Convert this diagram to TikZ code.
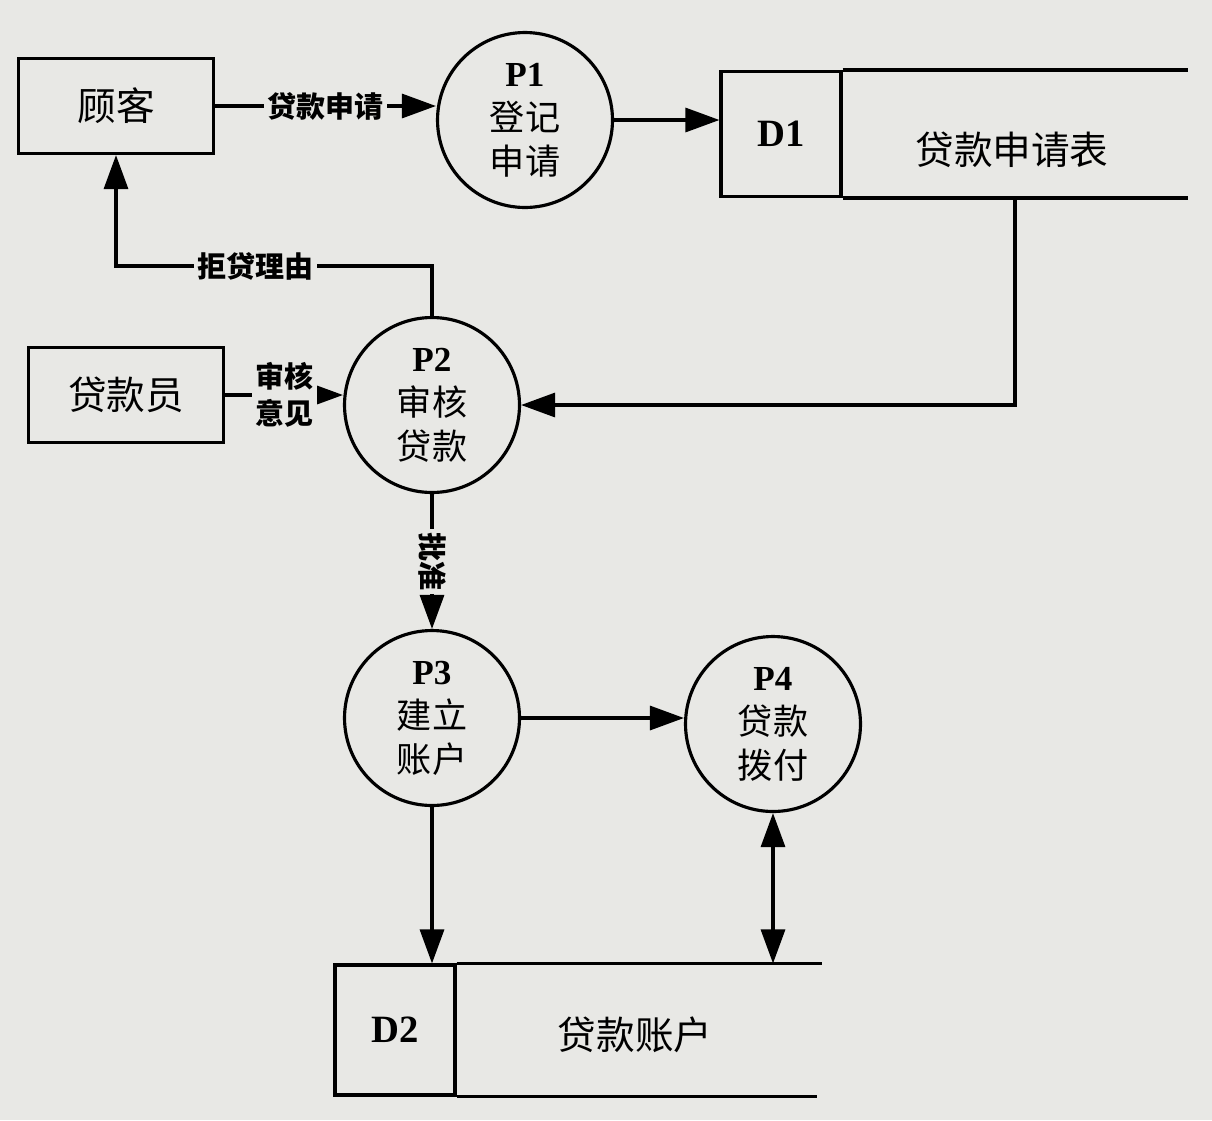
\documentclass[tikz,border=0pt]{standalone}
\usepackage{fontspec}
\setmainfont{Liberation Serif}
\newfontfamily\cjk{Noto Sans CJK SC}
\usetikzlibrary{arrows.meta}

\definecolor{paper}{RGB}{232,232,229}
\newcommand{\pid}[1]{{\rmfamily\bfseries #1}\\}

\tikzset{
  proc/.style={circle, draw, line width=1.8pt, minimum size=3.5cm, inner sep=0pt,
    align=center, font=\cjk\fontsize{20}{25}\selectfont},
  ent/.style={rectangle, draw, line width=1.8pt, minimum width=3.9cm, minimum height=1.9cm,
    font=\cjk\fontsize{22}{26}\selectfont},
  store/.style={rectangle, draw, line width=1.8pt, minimum width=2.4cm, minimum height=2.5cm,
    font=\rmfamily\bfseries\fontsize{22}{26}\selectfont},
  flow/.style={line width=1.8pt, -{Triangle[length=0.68cm,width=0.48cm]}},
  lbl/.style={fill=paper, inner sep=2pt, align=center, font=\cjk\bfseries\fontsize{16.5}{21}\selectfont},
}

\begin{document}
\begin{tikzpicture}[x=0.02cm, y=-0.02cm]
  \fill[paper] (0,0) rectangle (1212,1120);
  \useasboundingbox (0,0) rectangle (1212,1120);

  % external entities
  \node[ent] (gk) at (116,106) {顾客};
  \node[ent] (dky) at (126,395) {贷款员};

  % processes
  \node[proc] (p1) at (525,120) {\pid{P1}登记\\申请};
  \node[proc] (p2) at (432,405) {\pid{P2}审核\\贷款};
  \node[proc] (p3) at (432,718) {\pid{P3}建立\\账户};
  \node[proc] (p4) at (773,724) {\pid{P4}贷款\\拨付};

  % data stores
  \node[store] (d1) at (781,134) {D1};
  \draw[line width=1.8pt] (d1.north east) -- ++(345,0);
  \draw[line width=1.8pt] (d1.south east) -- ++(345,0);
  \node[font=\cjk\fontsize{22}{26}\selectfont] (d1t) at (1012,150) {贷款申请表};
  \coordinate (d1out) at (1015,197);

  \node[store, minimum height=2.6cm] (d2) at (395,1030) {D2};
  \draw[line width=1.8pt] (d2.north east) -- ++(365,0);
  \draw[line width=1.8pt] (d2.south east) -- ++(360,0);
  \node[font=\cjk\fontsize{22}{26}\selectfont] (d2t) at (635,1035) {贷款账户};

  % flows
  \draw[flow] (gk.east) -- (gk.east -| p1.west) node[midway, lbl] {贷款申请};
  \draw[flow] (p1.east) -- (p1.east -| d1.west);
  \draw[flow] (d1out) |- (p2);
  \draw[flow] (p2.north) -- ++(0,-50) -| (gk.south) node[pos=0.28, lbl] {拒贷理由};
  \draw[flow] (dky.east) -- (dky.east -| p2.west) node[midway, lbl] {审核\\意见};
  \draw[flow] (p2.south) -- (p3.north) node[midway, lbl, rotate=-90] {批准};
  \draw[flow] (p3.east) -- (p3.east -| p4.west);
  \draw[flow] (p3.south) -- (p3.south |- d2.north);
  \draw[flow, {Triangle[length=0.68cm,width=0.48cm]}-{Triangle[length=0.68cm,width=0.48cm]}]
    (p4.south) -- (p4.south |- d2.north);

\end{tikzpicture}
\end{document}
